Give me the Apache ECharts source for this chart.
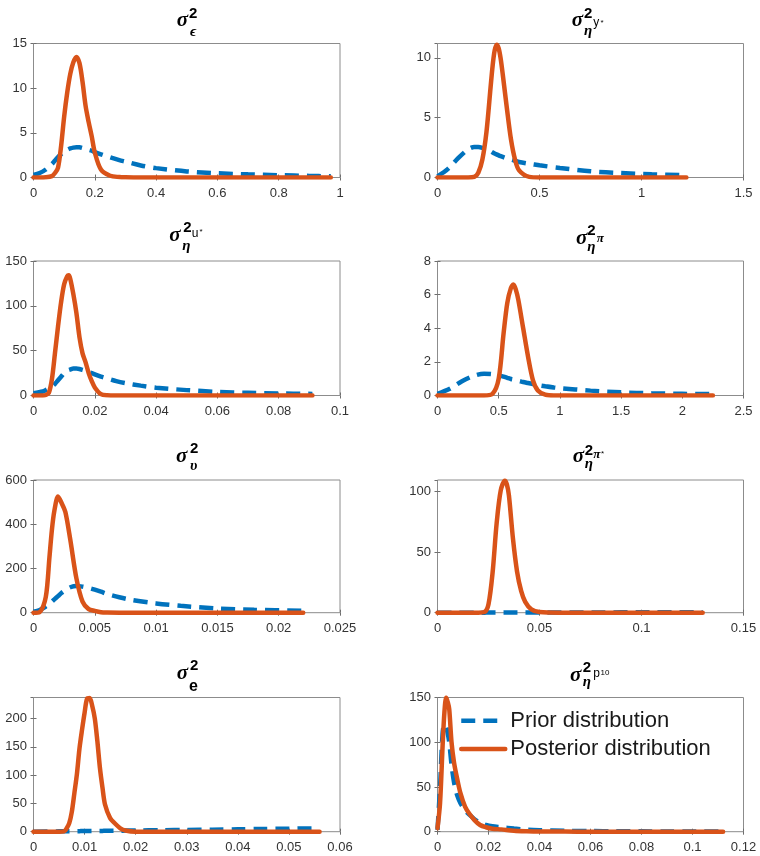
<!DOCTYPE html>
<html><head><meta charset="utf-8">
<script src="https://cdn.jsdelivr.net/npm/echarts@6/dist/echarts.min.js"></script>
<style>html,body{margin:0;padding:0;background:#fff}#c{width:760px;height:856px}</style>
</head><body><div id="c"></div>
<script>
// ---------- DATA ----------
// Panel 1: sigma^2_epsilon
const epsX     = [0, 0.02, 0.04, 0.06, 0.07, 0.08, 0.09, 0.1, 0.11, 0.12, 0.13, 0.14, 0.15, 0.16, 0.17, 0.18, 0.19, 0.2, 0.22, 0.25, 0.28, 0.3, 0.35, 0.4, 0.5, 0.6, 0.7, 0.8, 0.9, 0.97];
const epsPrior = [0.3, 0.5, 0.9, 1.5, 1.9, 2.3, 2.6, 2.9, 3.1, 3.25, 3.35, 3.4, 3.38, 3.3, 3.2, 3.1, 3.0, 2.85, 2.6, 2.25, 1.95, 1.78, 1.35, 1.05, 0.68, 0.47, 0.35, 0.26, 0.18, 0.13];
const epsPost  = [0, 0, 0.02, 0.15, 0.5, 1.1, 3.5, 6.8, 9.5, 11.6, 12.9, 13.5, 12.8, 10.7, 8.0, 6.2, 4.6, 2.8, 0.9, 0.2, 0.05, 0.02, 0, 0, 0, 0, 0, 0, 0, 0];
// Panel 2: sigma^2_eta^y*
const etaYX     = [0, 0.05, 0.1, 0.15, 0.18, 0.2, 0.22, 0.24, 0.26, 0.27, 0.28, 0.29, 0.3, 0.31, 0.32, 0.34, 0.36, 0.38, 0.4, 0.45, 0.5, 0.6, 0.75, 0.9, 1.05, 1.22];
const etaYPrior = [0.1, 0.7, 1.6, 2.35, 2.55, 2.55, 2.48, 2.35, 2.2, 2.1, 2.0, 1.93, 1.85, 1.78, 1.72, 1.6, 1.5, 1.4, 1.3, 1.15, 1.02, 0.8, 0.52, 0.37, 0.27, 0.19];
const etaYPost  = [0, 0, 0, 0, 0.05, 0.4, 1.5, 3.8, 7.5, 9.3, 10.6, 11.1, 10.8, 9.9, 8.6, 5.8, 3.2, 1.5, 0.6, 0.05, 0, 0, 0, 0, 0, 0];
// Panel 3: sigma^2_eta^u*
const etaUX     = [0, 0.003, 0.004, 0.005, 0.006, 0.007, 0.008, 0.009, 0.01, 0.011, 0.0115, 0.012, 0.013, 0.014, 0.015, 0.016, 0.017, 0.018, 0.019, 0.02, 0.022, 0.024, 0.027, 0.03, 0.035, 0.04, 0.05, 0.06, 0.07, 0.08, 0.091];
const etaUPrior = [2.5, 4.5, 6, 8, 10, 13, 17, 21, 25, 27.5, 28.5, 29, 30, 30, 29.5, 28.5, 27.5, 26, 25, 23.5, 21, 19, 16, 13.8, 11, 8.7, 6, 4, 3, 2.3, 1.8];
const etaUPost  = [0, 0, 0.5, 3, 18, 47, 77, 104, 124, 133, 134, 130, 113, 92, 65, 47, 37, 25, 16, 9, 1.5, 0.2, 0, 0, 0, 0, 0, 0, 0, 0, 0];
// Panel 4: sigma^2_eta^pi
const etaPiX     = [0, 0.1, 0.2, 0.3, 0.38, 0.45, 0.5, 0.54, 0.57, 0.6, 0.62, 0.64, 0.66, 0.7, 0.74, 0.78, 0.82, 0.88, 0.95, 1.0, 1.25, 1.5, 1.75, 2.0, 2.25];
const etaPiPrior = [0.1, 0.4, 0.85, 1.18, 1.3, 1.27, 1.2, 1.12, 1.05, 0.98, 0.95, 0.9, 0.87, 0.8, 0.74, 0.68, 0.62, 0.55, 0.48, 0.44, 0.29, 0.19, 0.13, 0.1, 0.08];
const etaPiPost  = [0, 0, 0, 0, 0, 0.1, 1.0, 3.7, 5.5, 6.4, 6.6, 6.3, 5.7, 4.0, 2.3, 0.9, 0.3, 0.05, 0, 0, 0, 0, 0, 0, 0];
// Panel 5: sigma^2_upsilon
const upsX     = [0, 0.0005, 0.001, 0.0013, 0.0015, 0.0017, 0.002, 0.0023, 0.0026, 0.003, 0.0035, 0.004, 0.0045, 0.005, 0.0055, 0.006, 0.007, 0.008, 0.01, 0.012, 0.015, 0.018, 0.022];
const upsPrior = [5, 12, 28, 40, 50, 60, 75, 90, 102, 115, 121, 118, 112, 104, 95, 85, 70, 58, 42, 31, 19, 13, 9];
const upsPost  = [0, 3, 70, 250, 374, 460, 525, 495, 455, 330, 155, 50, 16, 8, 2, 0.5, 0, 0, 0, 0, 0, 0, 0];
// Panel 6: sigma^2_eta^pi*
const etaPsX     = [0, 0.01, 0.02, 0.023, 0.025, 0.027, 0.029, 0.031, 0.033, 0.034, 0.035, 0.037, 0.039, 0.041, 0.043, 0.046, 0.05, 0.06, 0.08, 0.1, 0.13];
const etaPsPrior = [0, 0.02, 0.05, 0.06, 0.07, 0.08, 0.09, 0.1, 0.11, 0.11, 0.12, 0.12, 0.13, 0.13, 0.14, 0.15, 0.16, 0.19, 0.25, 0.3, 0.35];
const etaPsPost  = [0, 0, 0, 0.5, 7, 33, 74, 101, 109, 106, 97, 61, 34, 18, 9, 2.8, 0.5, 0, 0, 0, 0];
// Panel 7: sigma^2_e
const eX     = [0, 0.005, 0.006, 0.0065, 0.007, 0.0075, 0.008, 0.0085, 0.009, 0.0095, 0.01, 0.0105, 0.011, 0.0115, 0.012, 0.0125, 0.013, 0.0135, 0.014, 0.015, 0.016, 0.017, 0.018, 0.02, 0.025, 0.03, 0.035, 0.04, 0.045, 0.05, 0.056];
const ePrior = [0, 0.6, 0.7, 0.75, 0.8, 0.85, 0.9, 0.95, 1.0, 1.05, 1.1, 1.15, 1.2, 1.25, 1.3, 1.35, 1.4, 1.45, 1.5, 1.6, 1.7, 1.8, 1.9, 2.1, 2.6, 3.1, 3.6, 4.2, 4.8, 5.3, 5.9];
const ePost  = [0, 0, 0.5, 6, 15, 35, 68, 102, 147, 180, 210, 235, 236, 222, 200, 160, 113, 78, 48, 24, 14, 6, 2, 0, 0, 0, 0, 0, 0, 0, 0];
// Panel 8: sigma^2_eta^p10
const p10X     = [0, 0.001, 0.002, 0.0027, 0.0034, 0.004, 0.0046, 0.0055, 0.0065, 0.0078, 0.009, 0.0108, 0.0125, 0.0145, 0.0167, 0.019, 0.0215, 0.025, 0.03, 0.035, 0.04, 0.05, 0.06, 0.07, 0.08, 0.09, 0.1, 0.112];
const p10Prior = [2, 50, 110, 120, 117, 110, 100, 75, 55, 40, 32, 24, 19, 14, 10, 7.5, 6, 5, 3.5, 2.2, 1.6, 1.0, 0.7, 0.5, 0.4, 0.3, 0.25, 0.2];
const p10Post  = [4, 32, 96, 133, 150, 145, 137, 100, 77, 58, 43, 28, 20, 13, 7.5, 5, 3.4, 2.6, 1.1, 0.5, 0.2, 0.1, 0, 0, 0, 0, 0, 0];

// Axis ranges / tick steps
const xMaxes = [1, 1.5, 0.1, 2.5, 0.025, 0.15, 0.06, 0.12];
const xSteps = [0.2, 0.5, 0.02, 0.5, 0.005, 0.05, 0.01, 0.02];
const yMaxes = [15, 11.2, 150, 8, 600, 109.6, 237, 150];
const ySteps = [5, 5, 50, 2, 200, 50, 50, 50];

const seriesNames = ['Prior distribution', 'Posterior distribution'];

const panels = [
  [epsX, epsPrior, epsPost], [etaYX, etaYPrior, etaYPost],
  [etaUX, etaUPrior, etaUPost], [etaPiX, etaPiPrior, etaPiPost],
  [upsX, upsPrior, upsPost], [etaPsX, etaPsPrior, etaPsPost],
  [eX, ePrior, ePost], [p10X, p10Prior, p10Post]
];

// ---------- LAYOUT ----------
const GRID_LEFT = [33.5, 437.5], GRID_W = [306.5, 306];
const GRID_TOP = [43.5, 261, 480, 697.5], GRID_H = [134, 134.5, 132.7, 134.2];
const BLUE = '#0072BD', ORANGE = '#D95319';

const F_SIG = 'italic bold 21px "Liberation Serif"';
const F_TWO = 'bold 15px "Liberation Sans"';
const F_GSUB = 'italic bold 15px "Liberation Serif"';
const F_LSUB = 'bold 16px "Liberation Sans"';
const F_SS = '12px "Liberation Sans"';
const F_SSG = 'italic bold 13px "Liberation Serif"';
const F_TINY = '8px "Liberation Sans"';

// title pieces: [text, font, x, y(middle)]
const titlePieces = [
  [['σ', F_SIG, 176.7, 20.8], ['2', F_TWO, 189, 13.8], ['ϵ', F_GSUB, 190, 32]],
  [['σ', F_SIG, 571.7, 20.5], ['2', F_TWO, 584, 13.5], ['η', F_GSUB, 584, 30.7], ['y', F_SS, 593.3, 22.5], ['*', F_TINY, 600.5, 22.8]],
  [['σ', F_SIG, 169.3, 235.2], ['2', F_TWO, 183.3, 227.7], ['η', F_GSUB, 182.3, 245.7], ['u', F_SS, 191.7, 233.5], ['*', F_TINY, 199.5, 232.2]],
  [['σ', F_SIG, 576, 238.5], ['2', F_TWO, 587.3, 231], ['η', F_GSUB, 587.3, 247.4], ['π', F_SSG, 596.7, 238.4]],
  [['σ', F_SIG, 176, 456.8], ['2', F_TWO, 190, 449.3], ['υ', F_GSUB, 190, 466.5]],
  [['σ', F_SIG, 572.7, 456.8], ['2', F_TWO, 584.7, 451], ['η', F_GSUB, 584.7, 464.1], ['π', F_SSG, 593.3, 455], ['*', F_TINY, 601, 453.8]],
  [['σ', F_SIG, 176.7, 673.8], ['2', F_TWO, 190, 666.3], ['e', F_LSUB, 189, 686.6]],
  [['σ', F_SIG, 570, 675.2], ['2', F_TWO, 582.7, 667.7], ['η', F_GSUB, 582.7, 682.4], ['p', F_SS, 593.3, 674], ['10', F_TINY, 600.5, 672.5]]
];

const grids = [], xAxes = [], yAxes = [], series = [], graphics = [];
const axisCommon = {
  type: 'value', splitLine: { show: false }, axisLine: { show: false },
  axisTick: { show: true, inside: true, length: 3, lineStyle: { color: '#6e6e6e', width: 1 } }
};
const labelStyle = { color: '#333', fontSize: 13, fontFamily: '"Liberation Sans", Arial, sans-serif' };

panels.forEach((p, i) => {
  const r = Math.floor(i / 2), c = i % 2;
  grids.push({ left: GRID_LEFT[c], top: GRID_TOP[r], width: GRID_W[c], height: GRID_H[r],
    show: true, borderColor: '#8c8c8c', borderWidth: 1, backgroundColor: 'transparent',
    containLabel: false, outerBoundsMode: 'none' });
  const yTickMax = Math.abs(yMaxes[i] / ySteps[i] - Math.round(yMaxes[i] / ySteps[i])) < 1e-9;
  xAxes.push(Object.assign({}, axisCommon, { gridIndex: i, position: 'bottom', min: 0, max: xMaxes[i], interval: xSteps[i],
    axisLabel: Object.assign({ margin: 9, showMinLabel: true, showMaxLabel: true, hideOverlap: false }, labelStyle) }));
  xAxes.push(Object.assign({}, axisCommon, { gridIndex: i, position: 'top', min: 0, max: xMaxes[i], interval: xSteps[i],
    axisLabel: { show: false } }));
  yAxes.push(Object.assign({}, axisCommon, { gridIndex: i, position: 'left', min: 0, max: yMaxes[i], interval: ySteps[i],
    axisLabel: Object.assign({ margin: 6.5, showMinLabel: true, showMaxLabel: yTickMax, hideOverlap: false }, labelStyle) }));
  yAxes.push(Object.assign({}, axisCommon, { gridIndex: i, position: 'right', min: 0, max: yMaxes[i], interval: ySteps[i],
    axisLabel: { show: false } }));
  const xs = p[0];
  series.push({ name: seriesNames[0], type: 'line', xAxisIndex: 2 * i, yAxisIndex: 2 * i,
    data: xs.map((x, k) => [x, p[1][k]]), symbol: 'none', showSymbol: false, smooth: 0.3,
    lineStyle: { color: BLUE, width: 4.5, type: [14, 8], cap: 'butt' }, itemStyle: { color: BLUE },
    animation: false, z: 2 });
  series.push({ name: seriesNames[1], type: 'line', xAxisIndex: 2 * i, yAxisIndex: 2 * i,
    data: xs.map((x, k) => [x, p[2][k]]), symbol: 'none', showSymbol: false, smooth: 0.3,
    lineStyle: { color: ORANGE, width: 4.5, cap: 'round', join: 'round' }, itemStyle: { color: ORANGE },
    animation: false, z: 3 });
  titlePieces[i].forEach(t => {
    graphics.push({ type: 'text', x: t[2], y: t[3], silent: true,
      style: { text: t[0], font: t[1], fill: '#000', align: 'left', verticalAlign: 'middle',
        textAlign: 'left', textVerticalAlign: 'middle' } });
  });
});

const chart = echarts.init(document.getElementById('c'), null, { renderer: 'canvas' });
chart.setOption({
  animation: false,
  backgroundColor: '#fff',
  grid: grids, xAxis: xAxes, yAxis: yAxes, series: series,
  graphic: graphics,
  legend: {
    data: seriesNames, orient: 'vertical', left: 459, top: 709.7,
    itemWidth: 44, itemHeight: 14, itemGap: 6.2, padding: 0,
    itemStyle: { color: 'rgba(0,0,0,0)', borderColor: 'rgba(0,0,0,0)', borderWidth: 0, opacity: 0 },
    lineStyle: { width: 4.5 },
    textStyle: { fontSize: 22, lineHeight: 22, color: '#1a1a1a', fontFamily: '"Liberation Sans", Arial, sans-serif' },
    selectedMode: false
  }
});
</script></body></html>
